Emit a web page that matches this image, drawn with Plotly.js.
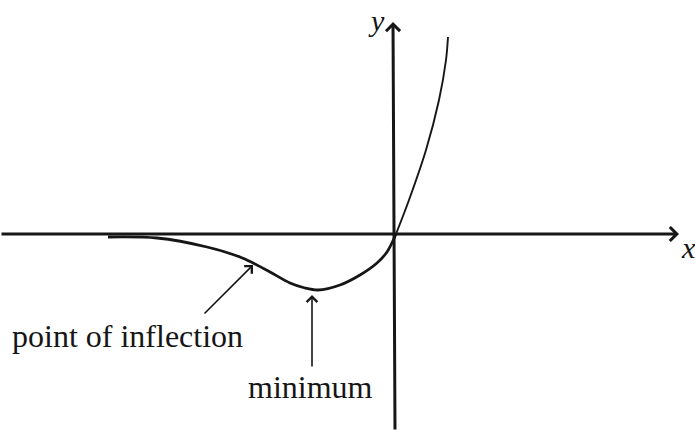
<!DOCTYPE html>
<html>
<head>
<meta charset="utf-8">
<script src="https://cdn.plot.ly/plotly-3.0.1.min.js"></script>
<style>
  html, body { margin: 0; padding: 0; background: #fff; }
  #graph { width: 695px; height: 431px; }
</style>
</head>
<body>
<div id="graph"></div>
<script>
// curve, 1 unit = 100 px, origin where the axes cross
var left_x  = [-2.88, -2.39, -1.89, -1.56, -1.43, -1.26, -1.06, -0.91, -0.78, -0.56, -0.36, -0.19, -0.09, 0.00]
var left_y  = [-0.03, -0.04, -0.13, -0.23, -0.29, -0.38, -0.49, -0.54, -0.56, -0.51, -0.41, -0.29, -0.18, 0.00]
var right_x = [0.00, 0.13, 0.30, 0.43, 0.50, 0.52]
var right_y = [0.00, 0.34, 0.84, 1.34, 1.74, 1.97]

// labelled points: [head x, head y, tail x, tail y]
var inflection_arrow = [-1.43, -0.31, -1.93, -0.81]
var minimum_arrow    = [-0.84, -0.61, -0.84, -1.34]
var labels = ['point of inflection', 'minimum']
var label_pos = [[-2.69, -1.02], [-0.86, -1.53]]

var serif = 'Liberation Serif, Times New Roman, serif'
var ink = '#161616'

var trace_left = {
  x: left_x, y: left_y,
  mode: 'lines',
  line: {color: ink, width: 2.8, shape: 'spline', smoothing: 0.9},
  hoverinfo: 'skip'
}
var trace_right = {
  x: right_x, y: right_y,
  mode: 'lines',
  line: {color: ink, width: 1.9, shape: 'spline', smoothing: 0.9},
  hoverinfo: 'skip'
}

function arrow(a, w, size) {
  return {
    x: a[0], y: a[1], ax: a[2], ay: a[3],
    xref: 'x', yref: 'y', axref: 'x', ayref: 'y',
    text: '', showarrow: true,
    arrowhead: 4, arrowsize: size, arrowwidth: w,
    arrowcolor: ink, standoff: 0
  }
}

function label(txt, pos, italic, size) {
  return {
    x: pos[0], y: pos[1], xref: 'x', yref: 'y',
    text: italic ? '<i>' + txt + '</i>' : txt,
    showarrow: false,
    xanchor: 'center', yanchor: 'middle',
    font: {family: serif, size: size, color: ink}
  }
}

var annotations = [
  arrow([2.83, 0, -3.96, 0], 3, 0.9),        // x axis
  arrow([-0.03, 2.12, -0.01, -1.97], 3, 0.9), // y axis
  arrow(inflection_arrow, 1.6, 1.3),
  arrow(minimum_arrow, 1.6, 1.3),
  label(labels[0], label_pos[0], false, 32),
  label(labels[1], label_pos[1], false, 32),
  label('x', [2.92, -0.13], true, 30),
  label('y', [-0.20, 2.14], true, 30)
]

var layout = {
  width: 695,
  height: 431,
  showlegend: false,
  margin: {l: 0, r: 0, t: 0, b: 0, pad: 0},
  paper_bgcolor: '#fff',
  plot_bgcolor: '#fff',
  xaxis: {range: [-3.96, 2.99], visible: false, fixedrange: true},
  yaxis: {range: [-1.97, 2.34], visible: false, fixedrange: true},
  annotations: annotations
}

Plotly.newPlot('graph', [trace_left, trace_right], layout, {displayModeBar: false, staticPlot: true})
</script>
</body>
</html>
